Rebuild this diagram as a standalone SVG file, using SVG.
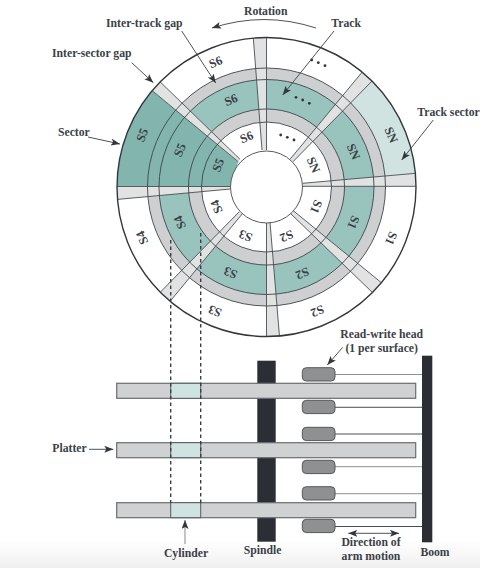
<svg xmlns="http://www.w3.org/2000/svg" width="480" height="568" viewBox="0 0 480 568">
<style>
text{font-family:"Liberation Serif","Times New Roman",serif;font-weight:700;fill:#3a3f47;font-size:11.7px}
.m{text-anchor:middle}
.s{font-size:12.5px;text-anchor:middle;dominant-baseline:central}
.gap{fill:#e1e2e2;stroke:none}
.ln{stroke:#4a4e54;stroke-width:.9;fill:none}
.ring{stroke:#3f444a;stroke-width:.9;fill:none}
.ar{stroke:#3a3f47;stroke-width:.9;fill:none;marker-end:url(#a)}
.pl{fill:#cfd1d2;stroke:#6a6d70;stroke-width:1.2}
.cy{fill:#cfe3e0;stroke:#555a60;stroke-width:1}
.hd{fill:#8e9092;stroke:#55585c;stroke-width:1}
.dk{fill:#2b2e34}
.dash{stroke:#3a3f45;stroke-width:1.4;stroke-dasharray:3.5 3;fill:none}
.dot{fill:#33373d}
</style>
<defs>
<marker id="a" markerUnits="userSpaceOnUse" markerWidth="10" markerHeight="8" refX="9" refY="3.5" orient="auto-start-reverse"><path d="M0,0L9,3.5L0,7L2,3.5Z" fill="#33373d"/></marker>
<clipPath id="disc"><circle cx="266.5" cy="187" r="149.5"/></clipPath>
<linearGradient id="fade" x1="0" y1="0" x2="0" y2="1"><stop offset="0" stop-color="#f1f1f1" stop-opacity="0"/><stop offset="1" stop-color="#efefef"/></linearGradient>
</defs>
<rect width="480" height="568" fill="#fff"/>
<rect y="540" width="480" height="28" fill="url(#fade)"/>

<g id="disc-surface">
<g clip-path="url(#disc)">
<path id="track-sector-fill" d="M293,161.7L374,79L440,79L440,171L302.7,183.3Z" fill="#d0e3e0"/>
<circle cx="266.5" cy="187" r="119" fill="#cdcfd1"/>
<circle cx="266.5" cy="187" r="107.5" fill="#99c4bd"/>
<circle cx="266.5" cy="187" r="78" fill="#cdcfd1"/>
<circle cx="266.5" cy="187" r="65" fill="#fff"/>
<path id="sector-fill" d="M238.3,161.7L149.5,88.5L100,60L100,186.5L231,186.5Z" fill="#82b5ad"/>
<path class="gap" d="M262,150L253,34L266.5,34L266.5,150Z"/>
<path class="gap" d="M290,159.3L363,71L374,79L293,161.7Z"/>
<path class="gap" d="M302.7,183.3L419,173L420,186.3L302.7,186.3Z"/>
<path class="gap" d="M293.3,210.7L383,284L374,294L290,213Z"/>
<path class="gap" d="M266.5,222L266.5,340L279.7,339L270,222Z"/>
<path class="gap" d="M242.7,213.3L169.5,302L159,293.5L239.3,211.7Z"/>
<path class="gap" d="M231,186.5L113,186.5L114,199.7L230.5,189Z"/>
<path class="gap" d="M238.3,161.7L149.5,88.5L157.5,79.3L240,159.3Z"/>
<g class="ln">
<path d="M262,150L253,34M266.5,150V34"/>
<path d="M290,159.3L363,71M293,161.7L374,79"/>
<path d="M302.7,183.3L419,173M302.7,186.3H420"/>
<path d="M293.3,210.7L383,284M290,213L374,294"/>
<path d="M266.5,222V340M270,222L279.7,339"/>
<path d="M242.7,213.3L169.5,302M239.3,211.7L159,293.5"/>
<path d="M231,186.5H113M230.5,189L114,199.7"/>
<path d="M238.3,161.7L149.5,88.5M240,159.3L157.5,79.3"/>
</g>
<g class="ring">
<circle cx="266.5" cy="187" r="119"/>
<circle cx="266.5" cy="187" r="107.5"/>
<circle cx="266.5" cy="187" r="78"/>
<circle cx="266.5" cy="187" r="65"/>
</g>
</g>
<circle id="outer-edge" cx="266.5" cy="187" r="149.5" fill="none" stroke="#33373d" stroke-width="1.4"/>
<circle id="hub" cx="266.5" cy="187" r="36" fill="#fff" stroke="#555a60" stroke-width="1"/>
</g>

<g id="sector-labels">
<text class="s" transform="translate(215.7,62.3) rotate(-22)">S6</text>
<text class="s" transform="translate(231,100) rotate(-22)">S6</text>
<text class="s" transform="translate(246.7,137.3) rotate(-22)">S6</text>
<text class="s" transform="translate(142.3,135) rotate(-67)">S5</text>
<text class="s" transform="translate(180,150) rotate(-67)">S5</text>
<text class="s" transform="translate(218.3,165) rotate(-67)">S5</text>
<text class="s" transform="translate(142.3,237.7) rotate(-113)">S4</text>
<text class="s" transform="translate(180,222.3) rotate(-113)">S4</text>
<text class="s" transform="translate(216.7,206.7) rotate(-113)">S4</text>
<text class="s" transform="translate(215,311) rotate(-158)">S3</text>
<text class="s" transform="translate(230.7,272.7) rotate(-158)">S3</text>
<text class="s" transform="translate(245.7,235.7) rotate(-158)">S3</text>
<text class="s" transform="translate(317.3,311) rotate(158)">S2</text>
<text class="s" transform="translate(302.3,273.3) rotate(158)">S2</text>
<text class="s" transform="translate(286.7,236) rotate(158)">S2</text>
<text class="s" transform="translate(391,238.3) rotate(113)">S1</text>
<text class="s" transform="translate(353.3,222.3) rotate(113)">S1</text>
<text class="s" transform="translate(316,206.7) rotate(113)">S1</text>
<text class="s" transform="translate(391,135) rotate(67)">SN</text>
<text class="s" transform="translate(353.3,151.7) rotate(67)">SN</text>
<text class="s" transform="translate(313.3,165) rotate(67)">SN</text>
</g>
<g id="ellipses" class="dot">
<circle cx="311.7" cy="60" r="1.4"/><circle cx="318.3" cy="62.7" r="1.4"/><circle cx="325" cy="65.7" r="1.4"/>
<circle cx="296" cy="97.3" r="1.4"/><circle cx="302.7" cy="100" r="1.4"/><circle cx="309.3" cy="103.3" r="1.4"/>
<circle cx="280.7" cy="135" r="1.4"/><circle cx="287.3" cy="137.3" r="1.4"/><circle cx="294" cy="140" r="1.4"/>
</g>

<g id="spindle"><rect class="dk" x="257.3" y="360.7" width="18.4" height="181"/></g>
<g id="boom"><rect class="dk" x="422" y="355.7" width="10.3" height="186.6"/></g>

<g id="platter-1"><rect class="pl" x="116.7" y="383.3" width="299" height="15"/><rect class="cy" x="170.7" y="383.3" width="30" height="15"/></g>
<g id="platter-2"><rect class="pl" x="116.7" y="442.7" width="299" height="15"/><rect class="cy" x="170.7" y="442.7" width="30" height="15"/></g>
<g id="platter-3"><rect class="pl" x="116.7" y="502.7" width="299" height="15"/><rect class="cy" x="170.7" y="502.7" width="30" height="15"/></g>

<g id="connectors">
<path class="dash" d="M170.7,240V503M200.7,233V503"/>
<path d="M335,374.5H422M335,466.7H422M335,493.7H422" stroke="#8e9092" stroke-width="1"/>
<path d="M335,407.3H422M335,434H422M335,526.5H422" stroke="#4a4e54" stroke-width="1"/>
<path class="ar" d="M316,28A168,168 0 0 0 212,28"/>
<path class="ar" d="M181.7,31L215.7,83"/>
<path class="ar" d="M131.7,62.7L153.3,82.7"/>
<path class="ar" d="M88,137L120,144"/>
<path class="ar" d="M334,31L282.7,95"/>
<path class="ar" d="M433.3,120L401.7,160"/>
<path class="ar" d="M89,449.3H113.3"/>
<path class="ar" d="M185,544V520" style="stroke:#9a9da0;stroke-width:1.2"/>
<path class="ar" d="M342.7,347.3L327.3,365"/>
<path class="ar" d="M348.3,533.3H399" style="marker-start:url(#a)"/>
</g>

<g id="heads">
<rect class="hd" x="302.3" y="367.7" width="32.7" height="13.3" rx="4"/>
<rect class="hd" x="302.3" y="400.3" width="32.7" height="13.3" rx="4"/>
<rect class="hd" x="302.3" y="427.3" width="32.7" height="13.3" rx="4"/>
<rect class="hd" x="302.3" y="460.3" width="32.7" height="13.3" rx="4"/>
<rect class="hd" x="302.3" y="486.7" width="32.7" height="13.3" rx="4"/>
<rect class="hd" x="302.3" y="519.3" width="32.7" height="13.3" rx="4"/>
</g>

<g id="labels">
<text class="m" x="265.7" y="15">Rotation</text>
<text x="106" y="27">Inter-track gap</text>
<text x="52" y="57">Inter-sector gap</text>
<text x="58" y="136">Sector</text>
<text x="331.3" y="27">Track</text>
<text x="417.3" y="116">Track sector</text>
<text class="m" x="381.7" y="338">Read-write head</text>
<text class="m" x="381.7" y="352">(1 per surface)</text>
<text x="52.3" y="452">Platter</text>
<text class="m" x="186" y="557">Cylinder</text>
<text class="m" x="262.7" y="554">Spindle</text>
<text class="m" x="371" y="546">Direction of</text>
<text class="m" x="371" y="560">arm motion</text>
<text class="m" x="435" y="556">Boom</text>
</g>
</svg>
